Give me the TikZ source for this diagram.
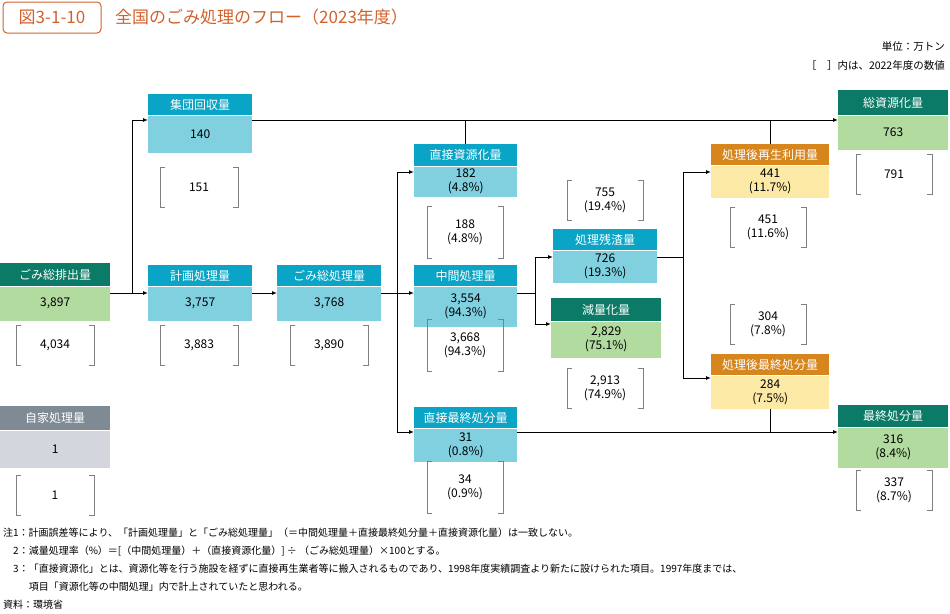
\documentclass[tikz,border=0pt]{standalone}
\usepackage{fontspec}
\setmainfont{Noto Sans CJK JP}
\usetikzlibrary{arrows.meta}
\definecolor{cyH}{HTML}{0AA5C6}\definecolor{cyB}{HTML}{80D0E0}
\definecolor{grH}{HTML}{0B7A66}\definecolor{grB}{HTML}{B2DBA0}
\definecolor{orH}{HTML}{D6861C}\definecolor{orB}{HTML}{FDE9A6}
\definecolor{gyH}{HTML}{7F8A94}\definecolor{gyB}{HTML}{D3D6DD}
\definecolor{ttl}{HTML}{D2612C}
\newcommand\BOX[9]{%
 \node[anchor=north west,fill=#7H,text=white,minimum width=#3pt,minimum height=#5pt,inner sep=0pt,font=\fontsize{12}{13}\selectfont] (#1H) at (#2,#4) {#8};
 \node[anchor=north west,fill=#7B,text=black,minimum width=#3pt,minimum height=#6pt,inner sep=0pt,align=center,font=\fontsize{12}{14}\selectfont] (#1) at (#1H.south west) {#9};}
\newcommand\BR[6]{%
 \node[align=center,font=\fontsize{12}{14}\selectfont] (#1) at (#2,#3) {#6};
 \draw[gray,line width=0.8pt] ($(#2,#3)+(-#4/2+5,-#5/2)$) -- ++(-5,0) -- ++(0,#5) -- ++(5,0);
 \draw[gray,line width=0.8pt] ($(#2,#3)+(#4/2-5,-#5/2)$) -- ++(5,0) -- ++(0,#5) -- ++(-5,0);}
\usetikzlibrary{calc}
\tikzset{arr/.style={line width=1pt,-{Latex[length=5pt,width=4pt]}},ln/.style={line width=1pt}}
\begin{document}
\begin{tikzpicture}[x=1pt,y=-1pt]
\useasboundingbox (0,0) rectangle (950,613);
% title
\node[draw=ttl,line width=1pt,rounded corners=4pt,text=ttl,minimum width=98pt,minimum height=31pt,inner sep=0pt,font=\fontsize{17}{17}\selectfont] (tb) at (52,17.5) {図3-1-10};
\node[anchor=west,text=ttl,inner sep=0pt,font=\fontsize{17}{17}\selectfont] (tt) at (115,17.5) {全国のごみ処理のフロー（2023年度）};
\node[anchor=east,inner sep=0pt,font=\fontsize{10.5}{12}\selectfont] (u1) at (945,47) {単位：万トン};
\node[anchor=east,inner sep=0pt,font=\fontsize{10.5}{12}\selectfont] (u2) at (945,66) {［　］内は、2022年度の数値};
% boxes
\BOX{ex}{0}{110}{263}{23}{34}{gr}{ごみ総排出量}{3,897}
\BOX{ji}{0}{110}{406}{24}{37}{gy}{自家処理量}{1}
\BOX{sh}{148}{104}{94}{21}{37}{cy}{集団回収量}{140}
\BOX{kk}{148}{104}{265}{21}{34}{cy}{計画処理量}{3,757}
\BOX{so}{277}{104}{265}{21}{34}{cy}{ごみ総処理量}{3,768}
\BOX{cs}{414}{103}{144}{22}{30}{cy}{直接資源化量}{182\\(4.8\%)}
\BOX{ch}{414}{103}{265}{21}{40}{cy}{中間処理量}{3,554\\(94.3\%)}
\BOX{cf}{414}{103}{407}{21}{33}{cy}{直接最終処分量}{31\\(0.8\%)}
\BOX{zs}{553}{104}{229}{21}{32}{cy}{処理残渣量}{726\\(19.3\%)}
\BOX{gr}{551}{110}{298}{23}{36}{gr}{減量化量}{2,829\\(75.1\%)}
\BOX{sr}{711}{118}{144}{21}{32}{or}{処理後再生利用量}{441\\(11.7\%)}
\BOX{sf}{711}{118}{354}{21}{33}{or}{処理後最終処分量}{284\\(7.5\%)}
\BOX{tg}{838}{110}{90}{25}{34}{gr}{総資源化量}{763}
\BOX{sk}{838}{110}{405}{22}{40}{gr}{最終処分量}{316\\(8.4\%)}
% brackets
\BR{b1}{55}{345}{78}{40}{4,034}
\BR{b2}{199}{345}{78}{40}{3,883}
\BR{b3}{329}{345}{78}{40}{3,890}
\BR{b4}{55}{495}{78}{40}{1}
\BR{b5}{199}{187}{78}{40}{151}
\BR{b6}{465}{232}{76}{52}{188\\(4.8\%)}
\BR{b7}{465}{345}{76}{52}{3,668\\(94.3\%)}
\BR{b8}{465}{487}{76}{52}{34\\(0.9\%)}
\BR{b9}{605}{200}{76}{40}{755\\(19.4\%)}
\BR{b10}{605}{388}{76}{40}{2,913\\(74.9\%)}
\BR{b11}{768}{227}{76}{40}{451\\(11.6\%)}
\BR{b12}{768}{324}{76}{40}{304\\(7.8\%)}
\BR{b13}{894}{174}{76}{40}{791}
\BR{b14}{894}{490}{76}{40}{337\\(8.7\%)}
% connectors
\coordinate (j1) at (132,293);
\coordinate (r1) at (838,120);
\coordinate (j2) at (397,293);
\coordinate (j3) at (535,293);
\coordinate (j4) at (683,257);
\coordinate (r2) at (838,432);
\draw[arr] (ex.east |- j1) -- (kk.west |- j1);
\draw[arr] (j1) |- (sh.west |- r1);
\draw[arr] (sh.east |- r1) -- (r1);
\draw[ln] (csH.north) -- (csH.north |- r1);
\draw[ln] (srH.north) -- (srH.north |- r1);
\draw[arr] (kk.east |- j1) -- (so.west |- j1);
\draw[arr] (so.east |- j2) -- (ch.west |- j2);
\draw[arr] (j2) |- (cs.west |- 0,172);
\draw[arr] (j2) |- (cf.west |- 0,432);
\draw[ln] (ch.east |- j3) -- (j3);
\draw[arr] (j3) |- (zs.west |- 0,257);
\draw[arr] (j3) |- (gr.west |- 0,324);
\draw[ln] (zs.east |- j4) -- (j4);
\draw[arr] (j4) |- (sr.west |- 0,172);
\draw[arr] (j4) |- (sf.west |- 0,378);
\draw[arr] (cf.east |- r2) -- (r2);
\draw[ln] (sf.south) -- (sf.south |- r2);
% notes
\begin{scope}[every node/.style={anchor=west,inner sep=0pt,font=\fontsize{10}{12}\selectfont}]
\node (n1) at (3,533) {注1：計画誤差等により、「計画処理量」と「ごみ総処理量」（＝中間処理量＋直接最終処分量＋直接資源化量）は一致しない。};
\node (n2) at (3,551) {\phantom{注}2：減量処理率（\%）＝[（中間処理量）＋（直接資源化量）]\ ÷\ （ごみ総処理量）×100とする。};
\node (n3) at (3,569) {\phantom{注}3：「直接資源化」とは、資源化等を行う施設を経ずに直接再生業者等に搬入されるものであり、1998年度実績調査より新たに設けられた項目。1997年度までは、};
\node (n4) at (3,587) {\phantom{注3：}項目「資源化等の中間処理」内で計上されていたと思われる。};
\node (n5) at (3,605) {資料：環境省};
\end{scope}
\end{tikzpicture}
\end{document}
